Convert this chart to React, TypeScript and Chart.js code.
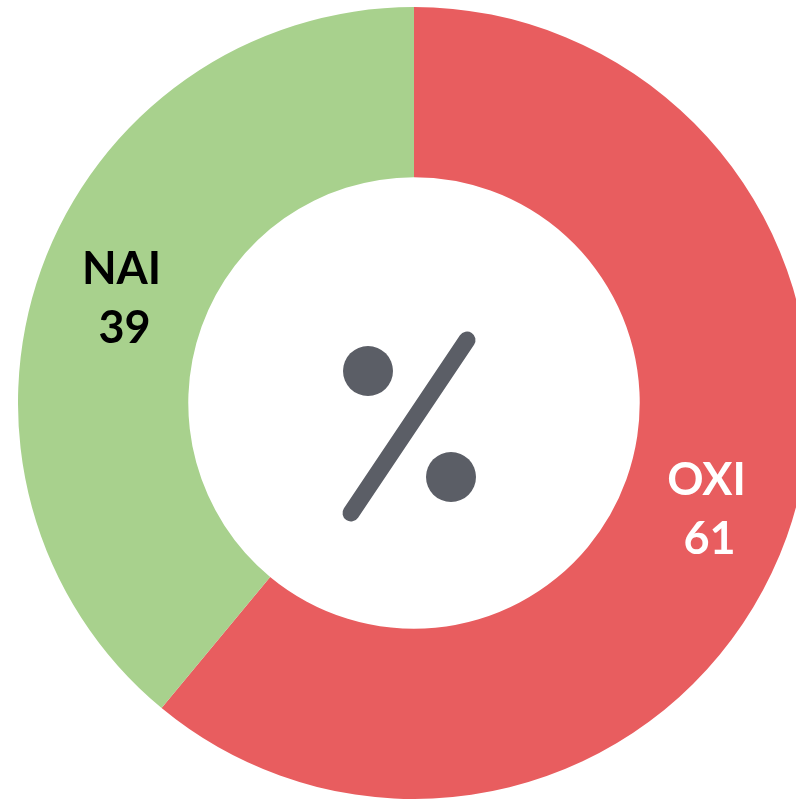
import React, { useEffect, useRef } from "react";
import { Chart, registerables } from "chart.js";

Chart.register(...registerables);

const categories = ["OXI", "NAI"];
const values = [61, 39];
const sliceColors = ["#E85D5F", "#A8D18D"];
const labelColors = ["#FFFFFF", "#000000"];

const labelPlugin = {
  id: "sliceLabels",
  afterDatasetsDraw(chart: any) {
    const ctx = chart.ctx;
    const meta = chart.getDatasetMeta(0);
    ctx.save();
    ctx.textAlign = "center";
    ctx.textBaseline = "middle";
    ctx.font = "bold 45px Lato, 'DejaVu Sans', sans-serif";
    meta.data.forEach((arc: any, i: number) => {
      const p = arc.getCenterPoint();
      ctx.fillStyle = labelColors[i];
      ctx.fillText(categories[i], p.x, p.y - 28);
      ctx.fillText(String(values[i]), p.x + 3, p.y + 31);
    });
    ctx.restore();
  },
};

const percentPlugin = {
  id: "percentIcon",
  afterDatasetsDraw(chart: any) {
    const ctx = chart.ctx;
    const arc = chart.getDatasetMeta(0).data[0];
    if (!arc) return;
    const cx = arc.x;
    const cy = arc.y;
    ctx.save();
    ctx.fillStyle = "#5B5E66";
    ctx.strokeStyle = "#5B5E66";
    ctx.beginPath();
    ctx.arc(cx - 46, cy - 32, 25, 0, Math.PI * 2);
    ctx.fill();
    ctx.beginPath();
    ctx.arc(cx + 37, cy + 74, 25, 0, Math.PI * 2);
    ctx.fill();
    ctx.lineWidth = 17;
    ctx.lineCap = "round";
    ctx.beginPath();
    ctx.moveTo(cx + 53, cy - 63);
    ctx.lineTo(cx - 63, cy + 110);
    ctx.stroke();
    ctx.restore();
  },
};

export default function App() {
  const ref = useRef<HTMLCanvasElement>(null);
  useEffect(() => {
    document.body.style.margin = "0";
    const chart = new Chart(ref.current as HTMLCanvasElement, {
      type: "doughnut",
      data: {
        labels: categories,
        datasets: [
          {
            data: values,
            backgroundColor: sliceColors,
            borderWidth: 0,
          },
        ],
      },
      options: {
        responsive: false,
        animation: false,
        cutout: "57%",
        devicePixelRatio: 1,
        layout: { padding: 0 },
        plugins: {
          legend: { display: false },
          tooltip: { enabled: false },
        },
      },
      plugins: [labelPlugin, percentPlugin],
    });
    return () => chart.destroy();
  }, []);
  return (
    <div
      style={{
        position: "fixed",
        left: 0,
        top: 0,
        width: 796,
        height: 799,
        overflow: "hidden",
        background: "#fff",
      }}
    >
      <canvas
        ref={ref}
        width={792}
        height={792}
        style={{ position: "absolute", left: 18, top: 7, width: 792, height: 792 }}
      />
    </div>
  );
}
